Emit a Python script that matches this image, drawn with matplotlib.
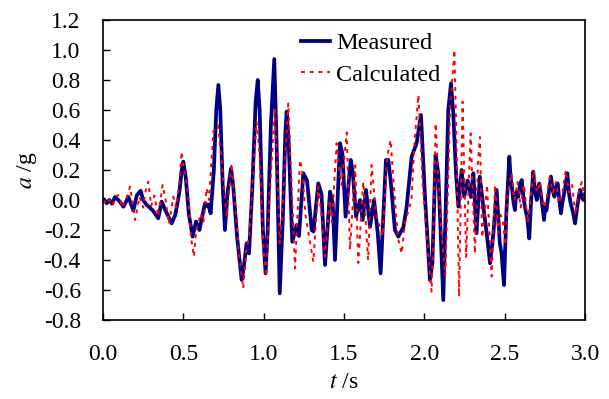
import matplotlib
matplotlib.use('Agg')
import matplotlib.pyplot as plt

plt.rcParams['font.family'] = ['Liberation Serif', 'DejaVu Serif']
plt.rcParams['mathtext.fontset'] = 'stix'
plt.rcParams['font.size'] = 17

# measured acceleration
t_meas = [0.0, 0.006, 0.023, 0.04, 0.055, 0.075, 0.1, 0.127, 0.158, 0.189, 0.21, 0.234,
          0.25, 0.27, 0.31, 0.344, 0.365, 0.385, 0.427, 0.45, 0.475, 0.49, 0.5, 0.515,
          0.535, 0.558, 0.579, 0.6, 0.635, 0.645, 0.655, 0.67, 0.69, 0.705, 0.718, 0.73,
          0.745, 0.759, 0.775, 0.797, 0.81, 0.835, 0.863, 0.876, 0.894, 0.909, 0.93, 0.95,
          0.963, 0.975, 0.995, 1.012, 1.025, 1.045, 1.066, 1.08, 1.10, 1.12, 1.135, 1.143,
          1.155, 1.178, 1.205, 1.22, 1.247, 1.27, 1.299, 1.31, 1.34, 1.36, 1.382, 1.413,
          1.43, 1.444, 1.475, 1.49, 1.51, 1.542, 1.555, 1.575, 1.6, 1.616, 1.637, 1.662,
          1.687, 1.71, 1.728, 1.761, 1.776, 1.79, 1.817, 1.838, 1.87, 1.89, 1.921, 1.952,
          1.979, 2.004, 2.035, 2.05, 2.07, 2.087, 2.118, 2.149, 2.166, 2.18, 2.197, 2.212,
          2.232, 2.248, 2.27, 2.29, 2.305, 2.325, 2.345, 2.367, 2.388, 2.409, 2.43, 2.45,
          2.47, 2.48, 2.496, 2.51, 2.529, 2.537, 2.545, 2.553, 2.564, 2.572, 2.585, 2.595,
          2.606, 2.617, 2.63, 2.641, 2.653, 2.665, 2.678, 2.688, 2.7, 2.708, 2.715, 2.73,
          2.745, 2.752, 2.76, 2.775, 2.788, 2.8, 2.81, 2.82, 2.83, 2.84, 2.85, 2.862,
          2.875, 2.882, 2.89, 2.9, 2.91, 2.925, 2.938, 2.955, 2.969, 2.98, 2.99, 3.0]
a_meas = [0.0, 0.005, -0.022, 0.0, -0.025, 0.02, -0.005, -0.045, 0.02, -0.07, 0.03, 0.062,
          0.0, -0.03, -0.07, -0.122, -0.011, -0.06, -0.156, -0.1, 0.05, 0.2, 0.256, 0.15,
          -0.1, -0.244, -0.144, -0.2, -0.022, -0.04, -0.03, -0.089, 0.2, 0.6, 0.767, 0.6,
          0.1, -0.2, 0.05, 0.211, 0.1, -0.25, -0.533, -0.45, -0.289, -0.356, 0.1, 0.65,
          0.8, 0.6, -0.2, -0.489, -0.2, 0.5, 0.94, 0.4, -0.622, -0.1, 0.45, 0.589,
          0.4, -0.278, -0.167, -0.24, 0.178, 0.13, -0.2, -0.21, 0.111, 0.04, -0.433, 0.056,
          -0.02, -0.4, 0.378, 0.31, -0.111, 0.267, 0.18, -0.111, 0.0, -0.133, 0.067, -0.178,
          0.0, -0.22, -0.489, 0.267, 0.267, 0.133, -0.2, -0.244, -0.18, -0.044, 0.289, 0.378,
          0.567, 0.022, -0.533, -0.42, 0.3, 0.178, -0.667, 0.6, 0.778, 0.58, 0.178, -0.044,
          0.2, 0.022, 0.13, 0.02, 0.178, -0.222, 0.156, -0.044, -0.222, -0.422, -0.222, 0.067,
          -0.29, -0.35, -0.567, -0.1, 0.289, 0.15, 0.09, 0.0, -0.067, 0.05, 0.022, 0.1,
          0.133, 0.02, -0.07, -0.12, -0.256, 0.0, 0.189, 0.06, 0.0, 0.08, 0.11, 0.0,
          -0.133, -0.05, -0.07, 0.05, 0.156, 0.06, 0.022, 0.09, 0.11, 0.0, -0.089, 0.0,
          0.07, 0.12, 0.178, 0.05, -0.02, -0.08, -0.156, -0.02, 0.067, 0.02, 0.0, 0.04]

# calculated acceleration
t_calc = [0.0, 0.01, 0.025, 0.04, 0.06, 0.08, 0.095, 0.12, 0.145, 0.168, 0.185, 0.2,
          0.227, 0.25, 0.265, 0.282, 0.3, 0.32, 0.344, 0.371, 0.39, 0.41, 0.438, 0.455,
          0.475, 0.489, 0.505, 0.53, 0.548, 0.566, 0.58, 0.61, 0.625, 0.645, 0.66, 0.687,
          0.715, 0.735, 0.77, 0.8, 0.82, 0.845, 0.873, 0.89, 0.91, 0.93, 0.956, 0.975,
          1.0, 1.015, 1.035, 1.07, 1.085, 1.10, 1.115, 1.153, 1.17, 1.195, 1.226, 1.24,
          1.26, 1.309, 1.34, 1.36, 1.382, 1.41, 1.425, 1.454, 1.47, 1.485, 1.517, 1.537,
          1.57, 1.589, 1.62, 1.65, 1.672, 1.70, 1.74, 1.77, 1.79, 1.81, 1.835, 1.859,
          1.88, 1.92, 1.94, 1.963, 1.975, 1.99, 2.02, 2.045, 2.055, 2.07, 2.085, 2.105,
          2.13, 2.145, 2.16, 2.187, 2.2, 2.216, 2.238, 2.26, 2.288, 2.315, 2.335, 2.346,
          2.36, 2.375, 2.39, 2.419, 2.44, 2.46, 2.475, 2.49, 2.505, 2.52, 2.543, 2.56,
          2.58, 2.6, 2.62, 2.645, 2.665, 2.68, 2.7, 2.72, 2.74, 2.76, 2.78, 2.8,
          2.82, 2.84, 2.86, 2.88, 2.9, 2.92, 2.94, 2.96, 2.98, 3.0]
a_calc = [0.0, -0.01, -0.03, 0.0, -0.035, 0.02, 0.033, -0.05, 0.01, 0.089, -0.03, -0.133,
          0.022, -0.05, 0.06, 0.122, -0.04, 0.03, -0.111, 0.1, 0.0, -0.16, 0.022, -0.05,
          0.1, 0.322, 0.2, 0.04, -0.25, -0.378, -0.2, -0.09, -0.15, 0.078, 0.0, 0.456,
          0.5, 0.3, -0.11, 0.244, 0.0, -0.35, -0.589, -0.35, -0.24, 0.1, 0.52, 0.3,
          -0.35, -0.51, 0.0, 0.61, 0.2, -0.29, -0.1, 0.644, 0.2, -0.456, 0.267, 0.2,
          -0.1, -0.411, 0.09, -0.1, -0.378, 0.0, -0.15, 0.378, 0.2, 0.1, 0.45, -0.33,
          0.23, -0.42, 0.12, -0.4, 0.233, -0.1, -0.24, 0.3, 0.4, 0.1, -0.25, -0.356,
          -0.15, 0.0, 0.4, 0.7, 0.45, 0.1, -0.3, -0.611, -0.3, 0.511, 0.2, -0.2,
          -0.5, 0.0, 0.6, 1.0, 0.4, -0.644, 0.656, -0.38, 0.444, -0.356, 0.267, 0.42,
          -0.25, -0.1, 0.1, -0.51, 0.1, -0.22, -0.1, -0.15, -0.3, 0.05, 0.178, 0.0,
          0.12, -0.05, 0.1, -0.15, 0.05, 0.2, 0.05, 0.12, -0.05, 0.0, 0.15, 0.05,
          0.12, -0.02, 0.05, 0.2, 0.05, 0.1, -0.1, 0.05, 0.12, 0.0]

xticks = [0.0, 0.5, 1.0, 1.5, 2.0, 2.5, 3.0]
yticks = [-0.8, -0.6, -0.4, -0.2, 0.0, 0.2, 0.4, 0.6, 0.8, 1.0, 1.2]

fig = plt.figure(figsize=(6.09, 3.99), dpi=100)
ax = fig.add_axes([103/609, 1-320/399, 482/609, 300/399])

ax.plot(t_meas, a_meas, color='#000080', lw=2.7, label='Measured', solid_joinstyle='round')
ax.plot(t_calc, a_calc, color='red', lw=1.4, ls=(0, (2, 2.5)), label='Calculated')

ax.set_xlim(0, 3.0)
ax.set_ylim(-0.8, 1.2)
ax.set_xticks(xticks)
ax.set_yticks(yticks)
ax.set_xticklabels(['%.1f' % v for v in xticks])
ax.set_yticklabels(['%.1f' % v for v in yticks])
ax.tick_params(axis='x', direction='in', length=5, width=1, pad=17, labelsize=17)
ax.tick_params(axis='y', direction='in', length=5, width=1, pad=16, labelsize=17)
for s in ax.spines.values():
    s.set_linewidth(1.2)

ax.set_xlabel('$t$ /s', fontsize=17, labelpad=5)
ax.set_ylabel('$a$ /g', fontsize=17, labelpad=3)

ax.legend(loc='upper left', bbox_to_anchor=(301/609, 1-32/399), bbox_transform=fig.transFigure,
          frameon=False, fontsize=17.5, handlelength=1.2, handletextpad=0.25,
          labelspacing=0.4, borderpad=0, borderaxespad=0)

fig.savefig('out.png', dpi=100)
